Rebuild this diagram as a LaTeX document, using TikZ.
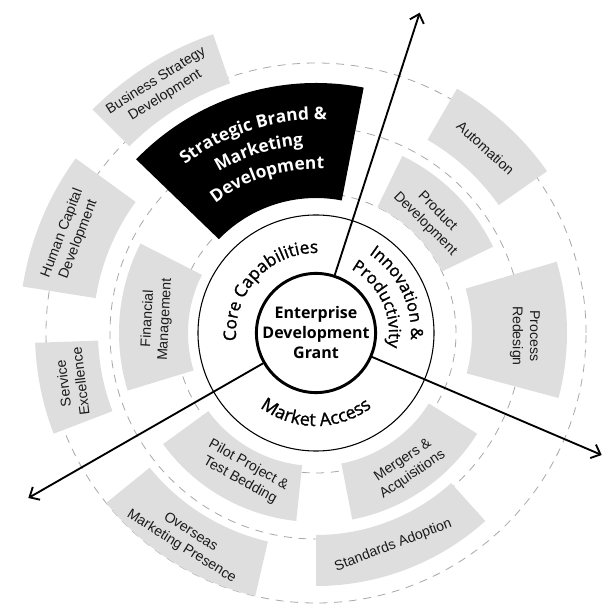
\documentclass[tikz,border=0pt]{standalone}
\usepackage{fontspec}
\setmainfont{Liberation Sans}
\newfontfamily\osans{Open Sans}
\newfontfamily\osansmed[FakeBold=1.2]{Open Sans}
\usetikzlibrary{arrows.meta,decorations.text}

\definecolor{segfill}{HTML}{DEDEDE}
\definecolor{dashgray}{HTML}{A8A8A8}
\definecolor{txt}{HTML}{1A1A1A}

\tikzset{
  seg/.style={fill=segfill, draw=none},
  blackseg/.style={fill=black, draw=none},
  dashring/.style={draw=dashgray, line width=0.6pt, dash pattern=on 6pt off 5pt},
  seglabel/.style={align=center, text=txt, font=\fontsize{10.6}{13}\selectfont, inner sep=0pt},
  axisarrow/.style={line width=1.4pt, -{Straight Barb[length=6pt,width=11pt,line width=1.4pt]}},
  ringtext/.style={decorate, decoration={text along path, text align=center, text={#1}}},
  whitetext/.style={decorate, decoration={text along path, text align=center, text color=white, text={#1}}},
}

\newcommand{\annseg}[5]{%
  \path[#1] (#2:#4) arc[start angle=#2, end angle=#3, radius=#4] -- (#3:#5) arc[start angle=#3, end angle=#2, radius=#5] -- cycle;}

\begin{document}
\begin{tikzpicture}[x=0.75pt,y=0.75pt]
\useasboundingbox (-316,-283) rectangle (300,333);
\fill[white] (-316,-283) rectangle (300,333);

% dashed guide rings
\draw[dashring] (0,0) circle[radius=140];
\draw[dashring] (0,0) circle[radius=206];
\draw[dashring] (0,0) circle[radius=270];

% segments
\annseg{seg}{26}{64}{140}{197}
\annseg{seg}{35}{60}{223}{282}
\annseg{seg}{-15}{16.5}{156}{251}
\annseg{seg}{-79}{-32}{133}{190}
\annseg{seg}{-90}{-48}{202}{253}
\annseg{seg}{216}{264}{133}{189}
\annseg{seg}{219}{257}{214}{270}
\annseg{seg}{182}{201}{218}{281}
\annseg{seg}{153}{197}{128}{197}
\annseg{seg}{144}{171}{223}{297}
\annseg{seg}{109}{135}{264}{316}
\annseg{blackseg}{79}{136}{135}{250}

% segment labels
\node[seglabel, rotate=-45] (pd) at (45:163) {Product\\Development};
\node[seglabel, rotate=-42] (au) at (47.5:251) {Automation};
\node[seglabel, rotate=-90] (pr) at (-0.8:209) {Process\\Redesign};
\node[seglabel, rotate=34] (ma) at (-55.7:163) {Mergers \&\\Acquisitions};
\node[seglabel, rotate=21] (sa) at (-70:226) {Standards Adoption};
\node[seglabel, rotate=-29] (pp) at (242.8:157) {Pilot Project \&\\Test Bedding};
\node[seglabel, rotate=-32] (om) at (237.8:244) {Overseas\\Marketing Presence};
\node[seglabel, rotate=97] (se) at (191.4:249) {Service\\Excellence};
\node[seglabel, rotate=87] (fm) at (175:160) {Financial\\Management};
\node[seglabel, rotate=69] (hc) at (158.5:264) {Human Capital\\Development};
\node[seglabel, rotate=32] (bs) at (122.4:290) {Business Strategy\\Development};

% black segment text
\path[whitetext={|\osans\bfseries\fontsize{13}{13}\selectfont|Strategic Brand {\&}}] (147:213) arc[start angle=147, end angle=68, radius=213];
\path[whitetext={|\osans\bfseries\fontsize{13}{13}\selectfont|Marketing}] (147:188) arc[start angle=147, end angle=68, radius=188];
\path[whitetext={|\osans\bfseries\fontsize{13}{13}\selectfont|Development}] (147:164) arc[start angle=147, end angle=68, radius=164];

% ring
\draw[line width=0.8pt] (0,0) circle[radius=118];
\path[ringtext={|\osansmed\fontsize{13}{13}\selectfont|Core Capabilities}] (187:80) arc[start angle=187, end angle=87, radius=80];
\path[ringtext={|\osansmed\fontsize{12.5}{12.5}\selectfont|Innovation {\&}}] (66:95) arc[start angle=66, end angle=-14, radius=95];
\path[ringtext={|\osansmed\fontsize{12.5}{12.5}\selectfont|Productivity}] (65:73) arc[start angle=65, end angle=-15, radius=73];
\path[ringtext={|\osansmed\fontsize{13.5}{13.5}\selectfont|Market Access}] (220:93) arc[start angle=220, end angle=320, radius=93];

% centre
\node[circle, draw, line width=2.2pt, fill=white, minimum size=88.5pt, inner sep=0pt, align=center,
      font=\osans\bfseries\fontsize{12}{15}\selectfont] (grant) at (0,0) {Enterprise\\Development\\Grant};

% axes
\coordinate (tipN) at (103.7,320.3);
\coordinate (tipE) at (285.7,-122);
\coordinate (tipW) at (-287.7,-165);
\draw[axisarrow] (grant) -- (tipN);
\draw[axisarrow] (grant) -- (tipE);
\draw[axisarrow] (grant) -- (tipW);
\end{tikzpicture}
\end{document}
